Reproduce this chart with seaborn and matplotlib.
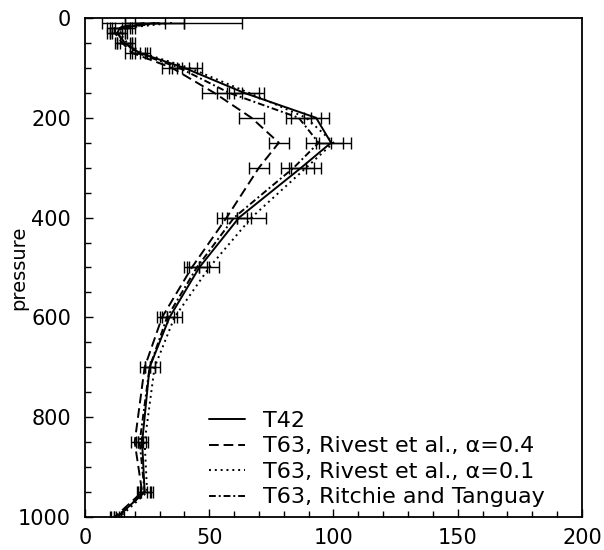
import numpy as np
import pandas as pd
import matplotlib
matplotlib.use("Agg")
import matplotlib.pyplot as plt
import seaborn as sns
from matplotlib.ticker import MultipleLocator

# Pressure levels of the profiles
pressure = [10, 20, 30, 50, 70, 100, 150, 200, 250, 300, 400, 500, 600, 700, 850, 950, 1000]

# Profile values and error half-widths for each run
t42 = [28, 14, 13, 16, 22, 40, 64, 93, 99, 87, 62, 46, 34, 26, 23, 24, 13]
t42_err = [12, 4, 3, 3, 3, 5, 6, 5, 5, 5, 5, 4, 3, 2, 1.5, 2.5, 1.5]

rivest_04 = [24, 12, 12, 15, 19, 35, 52, 67, 78, 70, 57, 43, 31, 24, 20, 23, 12]
rivest_04_err = [8, 3, 3, 3, 3, 4, 5, 5, 4, 4, 4, 3, 2, 2, 1.5, 2, 1.5]

rivest_01 = [35, 16, 14, 17, 23, 42, 66, 89, 100, 89, 67, 50, 36, 28, 24, 25, 14]
rivest_01_err = [28, 4, 3, 3, 3, 5, 6, 6, 7, 6, 6, 4, 3, 2, 1.5, 2.5, 1.5]

ritchie = [30, 15, 13, 16, 21, 38, 58, 86, 94, 84, 60, 45, 33, 26, 22, 24, 13]
ritchie_err = [10, 4, 3, 3, 3, 4, 5, 5, 5, 5, 5, 4, 3, 2, 1.5, 2, 1.5]

labels = ["T42",
          "T63, Rivest et al., \u03b1=0.4",
          "T63, Rivest et al., \u03b1=0.1",
          "T63, Ritchie and Tanguay"]
series = [t42, rivest_04, rivest_01, ritchie]
errors = [t42_err, rivest_04_err, rivest_01_err, ritchie_err]

df = pd.concat(
    [pd.DataFrame({"pressure": pressure, "value": vals, "run": lab})
     for vals, lab in zip(series, labels)],
    ignore_index=True,
)

sns.set_theme(style="ticks")
plt.rcParams["font.family"] = ["DejaVu Sans"]
plt.rcParams.update({"text.color": "black", "axes.labelcolor": "black",
                     "xtick.color": "black", "ytick.color": "black"})

fig = plt.figure(figsize=(6.04, 5.5), dpi=100)
ax = fig.add_axes([0.1407, 0.06, 0.8229, 0.9073])

dash_styles = {
    labels[0]: "",
    labels[1]: (5, 2.5),
    labels[2]: (1, 2),
    labels[3]: (3.5, 1.5, 1, 1.5),
}

sns.lineplot(data=df, x="value", y="pressure", hue="run", style="run",
             hue_order=labels, style_order=labels,
             palette=["black"] * 4, dashes=dash_styles,
             orient="y", estimator=None, linewidth=1.4, ax=ax)

for vals, err in zip(series, errors):
    ax.errorbar(vals, pressure, xerr=err, fmt="none", ecolor="black",
                elinewidth=1.0, capsize=4, capthick=1.0)

ax.set_xlim(0, 200)
ax.set_ylim(1000, 0)
ax.xaxis.set_major_locator(MultipleLocator(50))
ax.xaxis.set_minor_locator(MultipleLocator(10))
ax.yaxis.set_major_locator(MultipleLocator(200))
ax.yaxis.set_minor_locator(MultipleLocator(50))
ax.tick_params(which="both", direction="in", labelsize=15, color="black",
               labelcolor="black", width=1.0)
ax.tick_params(which="major", length=6)
ax.tick_params(which="minor", length=4)
ax.tick_params(axis="x", pad=8)
ax.tick_params(axis="y", pad=10)
ax.set_xlabel("")
ax.set_ylabel("pressure", fontsize=14, color="black")
ax.yaxis.set_label_coords(-0.115, 0.5)
for sp in ax.spines.values():
    sp.set_color("black")
    sp.set_linewidth(1.3)

handles, labs = ax.get_legend_handles_labels()
leg = ax.legend(handles, labs, loc="lower left", bbox_to_anchor=(0.21, -0.021),
                frameon=False, fontsize=16, handlelength=1.6,
                handletextpad=0.8, labelspacing=0.25)
for t in leg.get_texts():
    t.set_color("black")

fig.savefig("out.png", dpi=100)
